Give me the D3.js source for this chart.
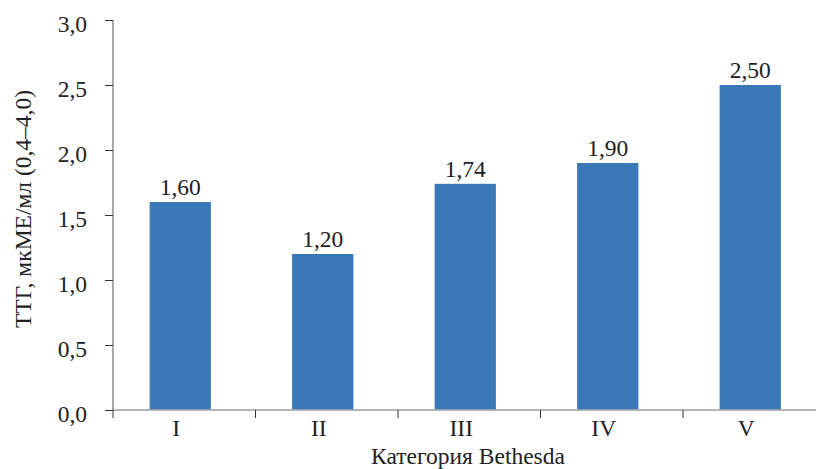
<!DOCTYPE html>
<html>
<head>
<meta charset="utf-8">
<script src="https://cdn.jsdelivr.net/npm/d3@7"></script>
<style>
  html, body { margin: 0; padding: 0; background: #fff; }
  svg { display: block; }
  text { font-family: "Liberation Serif", "DejaVu Serif", serif; fill: #222; }
</style>
</head>
<body>
<svg id="chart" width="816" height="469"></svg>
<script>
// Thyroid-stimulating hormone by Bethesda category
const categories = ["I", "II", "III", "IV", "V"];
const values = [1.60, 1.20, 1.74, 1.90, 2.50];
const valueLabels = ["1,60", "1,20", "1,74", "1,90", "2,50"];
const yTicks = [0, 0.5, 1.0, 1.5, 2.0, 2.5, 3.0];

const svg = d3.select("#chart");
const axisX = 113;
const fs = 23.5;
const fmt = v => v.toFixed(1).replace(".", ",");

const x = d3.scaleBand().domain(categories).range([109, 821.5]).paddingInner(0.57).paddingOuter(0.285);
const xb = d3.scaleBand().domain(categories).range([109, 821.5]);
const y = d3.scaleLinear().domain([0, 3]).range([410, 20]);

// bars
svg.append("g").selectAll("rect").data(values).join("rect")
  .attr("x", (d, i) => x(categories[i]))
  .attr("width", x.bandwidth())
  .attr("y", d => y(d))
  .attr("height", d => y(0) - y(d))
  .attr("fill", "#3a78b8");

// value labels
svg.append("g").selectAll("text").data(values).join("text")
  .attr("x", (d, i) => x(categories[i]) + x.bandwidth() / 2)
  .attr("y", d => y(d) - 7)
  .attr("text-anchor", "middle")
  .attr("font-size", fs)
  .text((d, i) => valueLabels[i]);

// x axis baseline
svg.append("line")
  .attr("x1", axisX).attr("x2", 816)
  .attr("y1", y(0)).attr("y2", y(0))
  .attr("stroke", "#a8a8a8").attr("stroke-opacity", 0.85).attr("stroke-width", 2);

// category separators
svg.append("g").selectAll("line").data(categories.slice(1)).join("line")
  .attr("x1", d => xb(d) + 4).attr("x2", d => xb(d) + 4)
  .attr("y1", y(0)).attr("y2", y(0) + 8)
  .attr("stroke", "#333").attr("stroke-width", 1);
svg.append("line")
  .attr("x1", axisX).attr("x2", axisX)
  .attr("y1", y(0)).attr("y2", y(0) + 8)
  .attr("stroke", "#333").attr("stroke-width", 1);

// category labels
svg.append("g").selectAll("text").data(categories).join("text")
  .attr("x", d => xb(d) + xb.bandwidth() / 2 - 4)
  .attr("y", 436)
  .attr("text-anchor", "middle")
  .attr("font-size", fs)
  .text(d => d);

// y axis
const yAxis = d3.axisLeft(y).tickValues(yTicks).tickFormat(fmt).tickSize(8).tickPadding(18);
const ga = svg.append("g").attr("transform", `translate(${axisX},0)`).call(yAxis);
ga.select(".domain").attr("stroke", "#555").attr("d", `M0,${y(3)}V${y(0)}`);
ga.selectAll(".tick line").attr("stroke", "#333");
ga.selectAll(".tick text").attr("font-size", fs).attr("fill", "#222").attr("dy", "0.47em")
  .attr("font-family", "Liberation Serif, DejaVu Serif, serif");

// axis titles
svg.append("text")
  .attr("x", 468).attr("y", 464)
  .attr("text-anchor", "middle").attr("font-size", fs)
  .text("Категория Bethesda");
svg.append("text")
  .attr("transform", `translate(31,209) rotate(-90)`)
  .attr("text-anchor", "middle").attr("font-size", fs)
  .text("ТТГ, мкМЕ/мл (0,4–4,0)");
</script>
</body>
</html>
